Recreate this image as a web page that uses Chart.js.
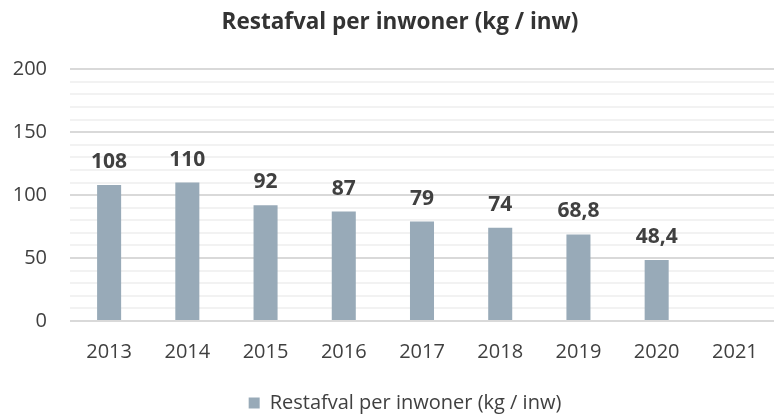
<!DOCTYPE html>
<html>
<head>
<meta charset="utf-8">
<script src="https://cdn.jsdelivr.net/npm/chart.js@4"></script>
<style>
  html, body { margin: 0; padding: 0; background: #ffffff; }
  #wrap { width: 774px; height: 416px; overflow: hidden; }
</style>
</head>
<body>
<div id="wrap"><canvas id="afvalChart" width="774" height="416"></canvas></div>
<script>
const years = ["2013", "2014", "2015", "2016", "2017", "2018", "2019", "2020", "2021"];
const restafval = [108, 110, 92, 87, 79, 74, 68.8, 48.4, null];
const yTicks = [0, 50, 100, 150, 200];

const FONT = "'Open Sans', 'Noto Sans', sans-serif";
const TEXT = "#404040";

// draw the value above every bar (comma as decimal sign)
const valueLabels = {
  id: "valueLabels",
  afterLayout(chart) {
    // title and legend are centred a bit right of the canvas middle
    chart.titleBlock.left = 26;
    chart.legend.left = 36;
  },
  afterDatasetsDraw(chart) {
    const ctx = chart.ctx;
    const meta = chart.getDatasetMeta(0);
    ctx.save();
    ctx.font = "bold 21px " + FONT;
    ctx.fillStyle = TEXT;
    ctx.textAlign = "center";
    ctx.textBaseline = "alphabetic";
    meta.data.forEach((bar, i) => {
      const v = restafval[i];
      if (v === null) return;
      ctx.fillText(String(v).replace(".", ","), bar.x, bar.y - 17);
    });
    ctx.restore();
  },
};

function renderChart() {
  const ctx = document.getElementById("afvalChart").getContext("2d");
  new Chart(ctx, {
    type: "bar",
    data: {
      labels: years,
      datasets: [
        {
          label: "Restafval per inwoner (kg / inw)",
          data: restafval,
          backgroundColor: "#98aab8",
          borderWidth: 0,
          barPercentage: 0.48,
          categoryPercentage: 0.64,
        },
      ],
    },
    options: {
      responsive: false,
      animation: false,
      layout: { padding: { left: 0, right: 0, top: 0, bottom: -7 } },
      plugins: {
        title: {
          display: true,
          text: "Restafval per inwoner (kg / inw)",
          color: "#333333",
          font: { family: FONT, size: 22.5, weight: "bold" },
          padding: { top: 9, bottom: 33.3 },
        },
        legend: {
          position: "bottom",
          labels: {
            color: TEXT,
            font: { family: FONT, size: 20 },
            boxWidth: 11,
            boxHeight: 11,
            padding: 8,
          },
        },
        tooltip: { enabled: false },
      },
      scales: {
        x: {
          afterFit(scale) {
            scale.height = 64;
          },
          grid: { display: false },
          border: { display: false },
          ticks: {
            color: TEXT,
            font: { family: FONT, size: 20 },
            padding: 11,
          },
        },
        y: {
          min: 0,
          max: 200,
          afterFit(scale) {
            scale.width = 70;
          },
          border: { display: false },
          grid: {
            drawTicks: false,
            lineWidth: 2,
            color: (c) => (yTicks.includes(c.tick.value) ? "#d9d9d9" : "#f2f2f2"),
          },
          ticks: {
            stepSize: 10,
            color: TEXT,
            font: { family: FONT, size: 20 },
            padding: 23,
            autoSkip: false,
            callback: (value) => (yTicks.includes(value) ? value : ""),
          },
        },
      },
    },
    plugins: [valueLabels],
  });
}

document.addEventListener("DOMContentLoaded", () => {
  renderChart();
});
</script>
</body>
</html>
